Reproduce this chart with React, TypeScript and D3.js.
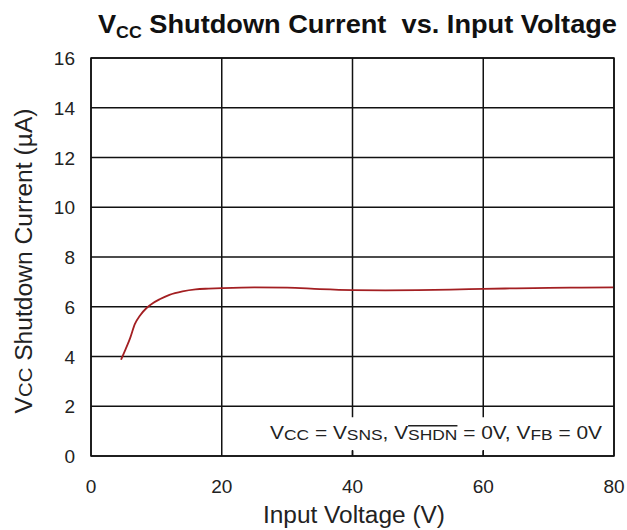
import React from "react";
import * as d3 from "d3";

// curve (V, uA)
const voltage = [4.6, 5.3, 6.0, 6.7, 7.5, 8.5, 9.5, 10.5, 12, 14, 16, 18, 20, 25, 30, 35, 40, 45, 50, 55, 60, 65, 70, 75, 80];
const current = [3.87, 4.3, 4.75, 5.3, 5.65, 5.95, 6.15, 6.3, 6.48, 6.62, 6.7, 6.73, 6.75, 6.78, 6.77, 6.71, 6.67, 6.66, 6.67, 6.69, 6.72, 6.74, 6.76, 6.77, 6.78];

const xTicks = [0, 20, 40, 60, 80];
const yTicks = [0, 2, 4, 6, 8, 10, 12, 14, 16];

const W = 627;
const H = 530;
const left = 91, right = 614, top = 58, bottom = 456;
const font = "'Liberation Sans', Arial, sans-serif";

export default function App() {
  const x = d3.scaleLinear().domain([0, 80]).range([left, right]);
  const y = d3.scaleLinear().domain([0, 16]).range([bottom, top]);
  const pts = voltage.map((v, i) => [v, current[i]] as [number, number]);
  const line = d3
    .line<[number, number]>()
    .x((d) => x(d[0]))
    .y((d) => y(d[1]))
    .curve(d3.curveMonotoneX);

  return (
    <div style={{ position: "absolute", left: 0, top: 0 }}>
      <svg width={W} height={H} style={{ display: "block" }} fontFamily={font}>
        <rect width={W} height={H} fill="#fff" />

        {/* Title */}
        <text x={98} y={33} fontSize={26} fontWeight="bold" fill="#111" textLength={519} lengthAdjust="spacingAndGlyphs" style={{ whiteSpace: "pre" }}>
          V<tspan fontSize={17} dy={5}>CC</tspan>
          <tspan dy={-5}>{" Shutdown Current  vs. Input Voltage"}</tspan>
        </text>

        {/* Grid */}
        {yTicks.map((t) => (
          <line key={"gy" + t} x1={left} x2={right} y1={y(t)} y2={y(t)} stroke="#111" strokeWidth={1.5} />
        ))}
        {xTicks.map((t) => (
          <line key={"gx" + t} x1={x(t)} x2={x(t)} y1={top} y2={bottom} stroke="#111" strokeWidth={1.5} />
        ))}

        {/* Curve */}
        <path d={line(pts) || ""} fill="none" stroke="#a31f22" strokeWidth={1.8} />

        {/* Annotation box */}
        <rect x={260} y={y(2) + 11} width={right - 260 - 1} height={bottom - y(2) - 17} fill="#fff" />
        <line x1={x(40)} x2={x(40)} y1={bottom - 5} y2={bottom} stroke="#111" strokeWidth={1.5} />
        <line x1={x(60)} x2={x(60)} y1={bottom - 5} y2={bottom} stroke="#111" strokeWidth={1.5} />
        <text x={270} y={439} fontSize={18} fill="#222" textLength={332} lengthAdjust="spacingAndGlyphs">
          V<tspan fontSize={15} dy={1}>CC</tspan>
          <tspan dy={-1}> = V</tspan>
          <tspan fontSize={15} dy={1}>SNS</tspan>
          <tspan dy={-1}>, V</tspan>
          <tspan fontSize={15} dy={1} textDecoration="overline">SHDN</tspan>
          <tspan dy={-1}> = 0V, V</tspan>
          <tspan fontSize={15} dy={1}>FB</tspan>
          <tspan dy={-1}> = 0V</tspan>
        </text>

        {/* Axis frame */}
        <rect x={left} y={top} width={right - left} height={bottom - top} fill="none" stroke="#111" strokeWidth={1.5} />

        {/* Tick labels */}
        {yTicks.map((t) => (
          <text key={"ly" + t} x={75} y={y(t) + 7} textAnchor="end" fontSize={19} fill="#222">
            {t}
          </text>
        ))}
        {xTicks.map((t) => (
          <text key={"lx" + t} x={x(t)} y={493} textAnchor="middle" fontSize={19} fill="#222">
            {t}
          </text>
        ))}

        {/* Axis titles */}
        <text x={354} y={523} textAnchor="middle" fontSize={23} fill="#222" textLength={182} lengthAdjust="spacingAndGlyphs">
          Input Voltage (V)
        </text>
        <text transform={`translate(32,261) rotate(-90)`} textAnchor="middle" fontSize={23} fill="#222" textLength={305} lengthAdjust="spacingAndGlyphs">
          V<tspan fontSize={19}>CC</tspan> Shutdown Current (µA)
        </text>
      </svg>
    </div>
  );
}
